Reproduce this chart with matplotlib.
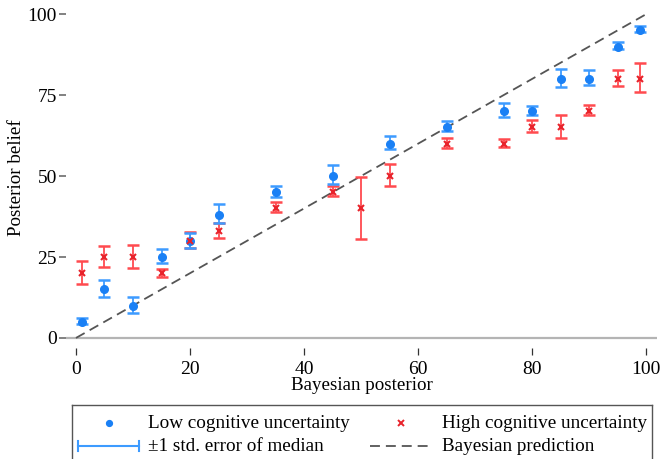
import numpy as np
import matplotlib.pyplot as plt
from matplotlib.lines import Line2D

plt.rcParams['font.family'] = ['Liberation Serif', 'DejaVu Serif']

# Bayesian posterior (%) shown to subjects
x_low = [1, 5, 10, 15, 20, 25, 35, 45, 55, 65, 75, 80, 85, 90, 95, 99]
x_high = [1, 5, 10, 15, 20, 25, 35, 45, 50, 55, 65, 75, 80, 85, 90, 95, 99]

# median posterior belief and the +/- 1 s.e. band around it
med_low = [5, 15, 10, 25, 30, 38, 45, 50, 60, 65, 70, 70, 80, 80, 90, 95]
lo_low = [4.2, 12.6, 7.8, 23.0, 27.9, 35.4, 43.6, 47.4, 58.3, 63.9, 68.1, 69.0, 77.6, 78.0, 89.2, 94.5]
hi_low = [6.1, 17.9, 12.6, 27.5, 32.5, 41.4, 47.0, 53.4, 62.3, 67.0, 72.6, 71.6, 83.2, 82.7, 91.4, 96.3]

med_high = [20, 25, 25, 20, 30, 33, 40, 45, 40, 50, 60, 60, 65, 65, 70, 80, 80]
lo_high = [16.6, 21.8, 21.7, 18.9, 27.9, 30.8, 38.8, 43.9, 30.6, 47.0, 58.7, 58.9, 63.5, 61.9, 68.8, 77.8, 76.0]
hi_high = [23.9, 28.5, 28.7, 21.3, 32.6, 35.6, 41.9, 46.9, 49.8, 53.6, 61.9, 61.3, 67.3, 68.8, 71.9, 82.9, 84.8]

blue = '#1a80f5'
blue_bar = '#3d9bff'
red = '#e8232b'
red_bar = '#ff4a4f'
dash_col = '#555555'

W, H = 661, 459
fig = plt.figure(figsize=(W / 100, H / 100), dpi=100)
ax = fig.add_axes([66 / W, 1 - 348 / H, (657 - 66) / W, (348 - 8) / H])

ax.axhline(0, color='#b4b4b4', lw=1.6, zorder=1)
ax.plot([0, 100], [0, 100], color=dash_col, lw=1.3, dashes=(5.5, 3.2), zorder=2)


def err(med, lo, hi):
    med = np.array(med)
    return np.vstack([med - np.array(lo), np.array(hi) - med])


ax.errorbar(x_high, med_high, yerr=err(med_high, lo_high, hi_high), fmt='none',
            ecolor=red_bar, elinewidth=1.3, capsize=4.6, capthick=1.8, zorder=3)
ax.errorbar(x_low, med_low, yerr=err(med_low, lo_low, hi_low), fmt='none',
            ecolor=blue_bar, elinewidth=1.3, capsize=4.6, capthick=1.8, zorder=3)
ax.plot(x_low, med_low, 'o', color=blue, ms=5.5, zorder=4)
ax.plot(x_high, med_high, 'x', color=red, ms=4.3, mew=1.5, zorder=5)

ax.set_xlim(-1.75, 101.9)
ax.set_ylim(-3.1, 101.9)
for s in ax.spines.values():
    s.set_visible(False)
ax.set_xticks([0, 20, 40, 60, 80, 100])
ax.set_yticks([0, 25, 50, 75, 100])
ax.tick_params(axis='both', length=5, width=0.9, color='#333333', labelsize=14, pad=4)
ax.tick_params(axis='y', color='#777777', width=1.3, pad=1.5)
ax.set_xlabel('Bayesian posterior', fontsize=13.7, labelpad=0)
ax.set_ylabel('Posterior belief', fontsize=13.7, labelpad=2)

# legend box drawn in its own axes
lg = fig.add_axes([72 / W, -2 / H, (652 - 72) / W, (459 - 405 + 2) / H])
lg.set_xlim(72, 652)
lg.set_ylim(461, 405)
lg.set_xticks([])
lg.set_yticks([])
for s in lg.spines.values():
    s.set_color('#555555')
    s.set_linewidth(1.0)

fs = 13.8
lg.plot([109], [423], 'o', color=blue, ms=4.2)
lg.text(148, 423, 'Low cognitive uncertainty', fontsize=fs, va='center')
lg.plot([401], [423], 'x', color=red, ms=4, mew=1.4)
lg.text(442, 423, 'High cognitive uncertainty', fontsize=fs, va='center')
lg.plot([78, 139], [446, 446], color=blue_bar, lw=1.5)
lg.plot([78, 78], [441, 451], color=blue_bar, lw=1.5)
lg.plot([139, 139], [441, 451], color=blue_bar, lw=1.5)
lg.text(148, 446, '\u00b11 std. error of median', fontsize=fs, va='center')
lg.add_line(Line2D([370, 428], [446, 446], color=dash_col, lw=1.3, dashes=(5.5, 3.3)))
lg.text(442, 446, 'Bayesian prediction', fontsize=fs, va='center')

fig.savefig('out.png', dpi=100)
